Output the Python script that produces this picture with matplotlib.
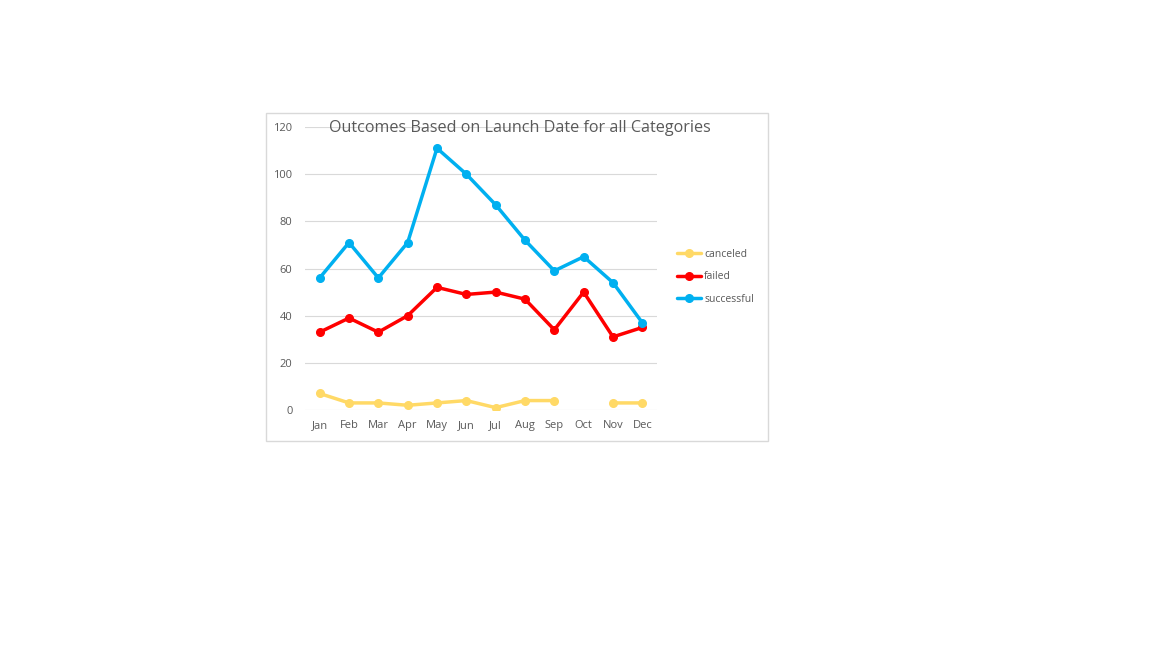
import numpy as np
import matplotlib
matplotlib.use("Agg")
import matplotlib.pyplot as plt
from matplotlib.patches import Rectangle

months = ['Jan', 'Feb', 'Mar', 'Apr', 'May', 'Jun', 'Jul', 'Aug', 'Sep', 'Oct', 'Nov', 'Dec']
canceled = [7, 3, 3, 2, 3, 4, 1, 4, 4, np.nan, 3, 3]
failed = [33, 39, 33, 40, 52, 49, 50, 47, 34, 50, 31, 35]
successful = [56, 71, 56, 71, 111, 100, 87, 72, 59, 65, 54, 37]

text_color = '#595959'
grid_color = '#d9d9d9'

plt.rcParams['font.family'] = ['Open Sans', 'DejaVu Sans']

fig = plt.figure(figsize=(11.52, 6.48), dpi=100)

# chart frame like the Excel chart area
fig.patches.append(Rectangle((266 / 1152, 1 - 441 / 648), 502 / 1152, 328 / 648,
                             transform=fig.transFigure, fill=False,
                             edgecolor=grid_color, linewidth=1))

ax = fig.add_axes([305 / 1152, 1 - 410 / 648, 352 / 1152, 283 / 648])

x = np.arange(len(months))
series = [
    ('canceled', canceled, '#ffd966'),
    ('failed', failed, '#ff0000'),
    ('successful', successful, '#00b0f0'),
]
for name, vals, col in series:
    ax.plot(x, vals, color=col, linewidth=2.5, marker='o', markersize=5.5,
            label=name, solid_capstyle='round')

ax.set_xlim(-0.5, len(months) - 0.5)
ax.set_ylim(0, 120)
ax.set_yticks(range(0, 121, 20))
ax.set_xticks(x)
ax.set_xticklabels(months)
ax.tick_params(axis='both', length=0, labelsize=8, colors=text_color)
ax.tick_params(axis='x', pad=7)
ax.tick_params(axis='y', pad=9)
ax.grid(axis='y', color=grid_color, linewidth=0.8)
ax.set_axisbelow(True)
for s in ax.spines.values():
    s.set_visible(False)

fig.text(520 / 1152, 1 - 128 / 648, 'Outcomes Based on Launch Date for all Categories',
         ha='center', va='center', fontsize=11.6, color=text_color)

leg = ax.legend(loc='center left', bbox_to_anchor=(1.03, 0.47), frameon=False,
                fontsize=7.5, labelcolor=text_color, handlelength=2.3,
                handletextpad=0.3, labelspacing=1.1)

fig.savefig('out.png', dpi=100)
